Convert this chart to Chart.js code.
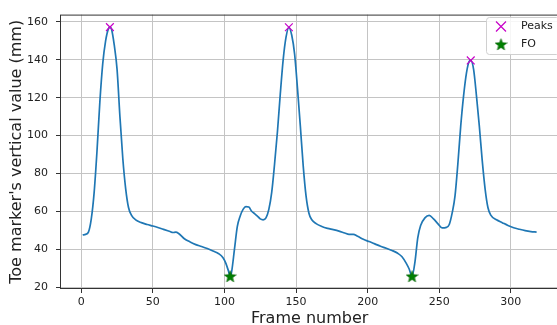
<!DOCTYPE html>
<html>
<head>
<meta charset="utf-8">
<script src="https://cdn.jsdelivr.net/npm/chart.js"></script>
<style>
  html, body { margin: 0; padding: 0; background: #fff; overflow: hidden; }
  #wrap { width: 557px; height: 325px; overflow: hidden; }
  canvas { display: block; }
</style>
</head>
<body>
<div id="wrap"><canvas id="toeChart" width="566" height="325"></canvas></div>
<script>
// toe marker trace (frame -> mm)
const frames = [1, 3, 5, 7, 9, 11, 13, 15, 17, 19, 20, 21, 23, 25, 27, 29, 31, 33, 35, 38,
  42, 46, 50, 54, 58, 62, 64, 66, 68, 72, 76, 80, 84, 88, 92, 96, 99, 101, 103, 104,
  105, 107, 109, 111, 113, 115, 117, 119, 121, 123, 125, 127, 129, 131, 133, 135, 137, 139, 141, 143,
  145, 147, 149, 151, 153, 155, 157, 159, 161, 164, 168, 172, 176, 180, 184, 187, 190, 193, 197, 201,
  205, 209, 213, 217, 221, 224, 227, 229, 231, 233, 235, 237, 240, 243, 246, 249, 252, 255, 257, 259,
  261, 263, 265, 267, 269, 271, 272, 274, 276, 278, 280, 282, 284, 286, 290, 294, 298, 302, 306, 310,
  314, 318];
const toeValues = [47.5, 47.8, 49, 56, 70, 92, 118, 138, 150, 156.5, 157.3, 156.5, 148, 135, 110, 88, 72, 62, 58, 55.5,
  54, 53, 52.2, 51.3, 50.3, 49.3, 48.8, 49.0, 48.3, 45.5, 43.8, 42.4, 41.4, 40.3, 39, 37.6, 35.5, 32.5, 28, 25.6,
  28, 40, 52, 57.5, 61, 62.5, 62.3, 60, 58.8, 57.5, 56, 55.5, 56.5, 61, 70, 85, 102, 122, 140, 152,
  157.2, 153, 143, 125, 105, 84, 68, 59, 55.5, 53.5, 52, 51, 50.3, 49.5, 48.5, 47.8, 47.8, 46.8, 45.2, 44,
  42.8, 41.5, 40.5, 39.3, 37.8, 36, 32.5, 29.5, 25.6, 33, 46, 52.5, 56.5, 57.8, 56, 53.5, 51.2, 51.5, 53, 59,
  68, 85, 105, 121, 133, 139.3, 139.7, 135, 121, 105, 87, 72, 62, 58, 55.5, 54, 52.5, 51.3, 50.5, 49.8,
  49.3, 49];

const peakFrames = [20, 145, 272];
const peakValues = [157.3, 157.2, 139.7];
const foFrames = [104, 231];
const foValues = [25.6, 25.6];

const xTicks = [0, 50, 100, 150, 200, 250, 300];
const yTicks = [20, 40, 60, 80, 100, 120, 140, 160];

const FONT = "'DejaVu Sans', sans-serif";
const MAGENTA = '#c800c8';
const GREEN = '#008000';

function makeStar(size) {
  const c = document.createElement('canvas');
  c.width = size; c.height = size;
  const g = c.getContext('2d');
  const cx = size / 2, cy = size / 2 + 0.4;
  const ro = size / 2 - 0.3, ri = ro * 0.42;
  g.beginPath();
  for (let i = 0; i < 10; i++) {
    const r = i % 2 === 0 ? ro : ri;
    const a = -Math.PI / 2 + i * Math.PI / 5;
    const px = cx + r * Math.cos(a), py = cy + r * Math.sin(a);
    if (i === 0) g.moveTo(px, py); else g.lineTo(px, py);
  }
  g.closePath();
  g.fillStyle = GREEN;
  g.fill();
  g.strokeStyle = '#006000';
  g.lineWidth = 0.6;
  g.stroke();
  return c;
}
const star = makeStar(13);

const toXY = (xs, ys) => xs.map((x, i) => ({ x: x, y: ys[i] }));

// matplotlib style frame around the axes + legend in the upper right
const framePlugin = {
  id: 'frame',
  afterDraw(chart) {
    const { ctx, chartArea: a } = chart;
    ctx.save();
    ctx.strokeStyle = '#333';
    ctx.lineWidth = 1;
    ctx.strokeRect(a.left + 0.5, a.top + 0.5, a.right - a.left - 1, a.bottom - a.top - 1);

    // legend
    const lx = 486, ly = 17, lw = 73, lh = 37;
    ctx.fillStyle = 'rgba(255,255,255,0.85)';
    ctx.strokeStyle = '#d0d0d0';
    ctx.beginPath();
    ctx.roundRect(lx + 0.5, ly + 0.5, lw, lh, 3);
    ctx.fill();
    ctx.stroke();

    const mx = 501, r1 = 26.5, r2 = 44.5;
    ctx.strokeStyle = MAGENTA;
    ctx.lineWidth = 1.2;
    ctx.beginPath();
    ctx.moveTo(mx - 5, r1 - 5); ctx.lineTo(mx + 5, r1 + 5);
    ctx.moveTo(mx + 5, r1 - 5); ctx.lineTo(mx - 5, r1 + 5);
    ctx.stroke();
    ctx.drawImage(star, mx - star.width / 2, r2 - star.height / 2);

    ctx.fillStyle = '#222';
    ctx.font = '11px ' + FONT;
    ctx.textBaseline = 'middle';
    ctx.textAlign = 'left';
    ctx.fillText('Peaks', 521, r1);
    ctx.fillText('FO', 521, r2);
    ctx.restore();
  }
};

new Chart(document.getElementById('toeChart'), {
  type: 'scatter',
  data: {
    datasets: [
      {
        label: 'Toe',
        data: toXY(frames, toeValues),
        showLine: true,
        borderColor: '#1f77b4',
        borderWidth: 1.7,
        pointRadius: 0,
        cubicInterpolationMode: 'monotone',
        order: 3
      },
      {
        label: 'Peaks',
        data: toXY(peakFrames, peakValues),
        pointStyle: 'crossRot',
        pointRadius: 5.5,
        borderColor: MAGENTA,
        borderWidth: 1.2,
        order: 1
      },
      {
        label: 'FO',
        data: toXY(foFrames, foValues),
        pointStyle: star,
        order: 2
      }
    ]
  },
  options: {
    responsive: false,
    animation: false,
    events: [],
    layout: { padding: { top: 11, right: 1, left: 0, bottom: 0 } },
    plugins: { legend: { display: false }, tooltip: { enabled: false } },
    scales: {
      x: {
        type: 'linear',
        min: -14.85,
        max: 333.85,
        afterFit(s) { s.height = 36; },
        afterBuildTicks(s) { s.ticks = xTicks.map(v => ({ value: v })); },
        ticks: { font: { family: FONT, size: 11 }, color: '#222', padding: 3, maxRotation: 0 },
        grid: { color: '#c4c4c4', lineWidth: 1, tickLength: 4, tickColor: '#333' },
        border: { display: false },
        title: {
          display: true,
          text: 'Frame number',
          font: { family: FONT, size: 16, lineHeight: 1 },
          color: '#222',
          padding: { top: 0, bottom: -2 }
        }
      },
      y: {
        type: 'linear',
        min: 18.95,
        max: 163.9,
        afterFit(s) { s.width = 60; },
        afterBuildTicks(s) { s.ticks = yTicks.map(v => ({ value: v })); },
        ticks: { font: { family: FONT, size: 11 }, color: '#222', padding: 8 },
        grid: { color: '#c4c4c4', lineWidth: 1, tickLength: 4, tickColor: '#333' },
        border: { display: false },
        title: {
          display: true,
          text: "Toe marker's vertical value (mm)",
          font: { family: FONT, size: 16, lineHeight: 1 },
          color: '#222',
          padding: { top: 9, bottom: 0 }
        }
      }
    }
  },
  plugins: [framePlugin]
});
</script>
</body>
</html>
